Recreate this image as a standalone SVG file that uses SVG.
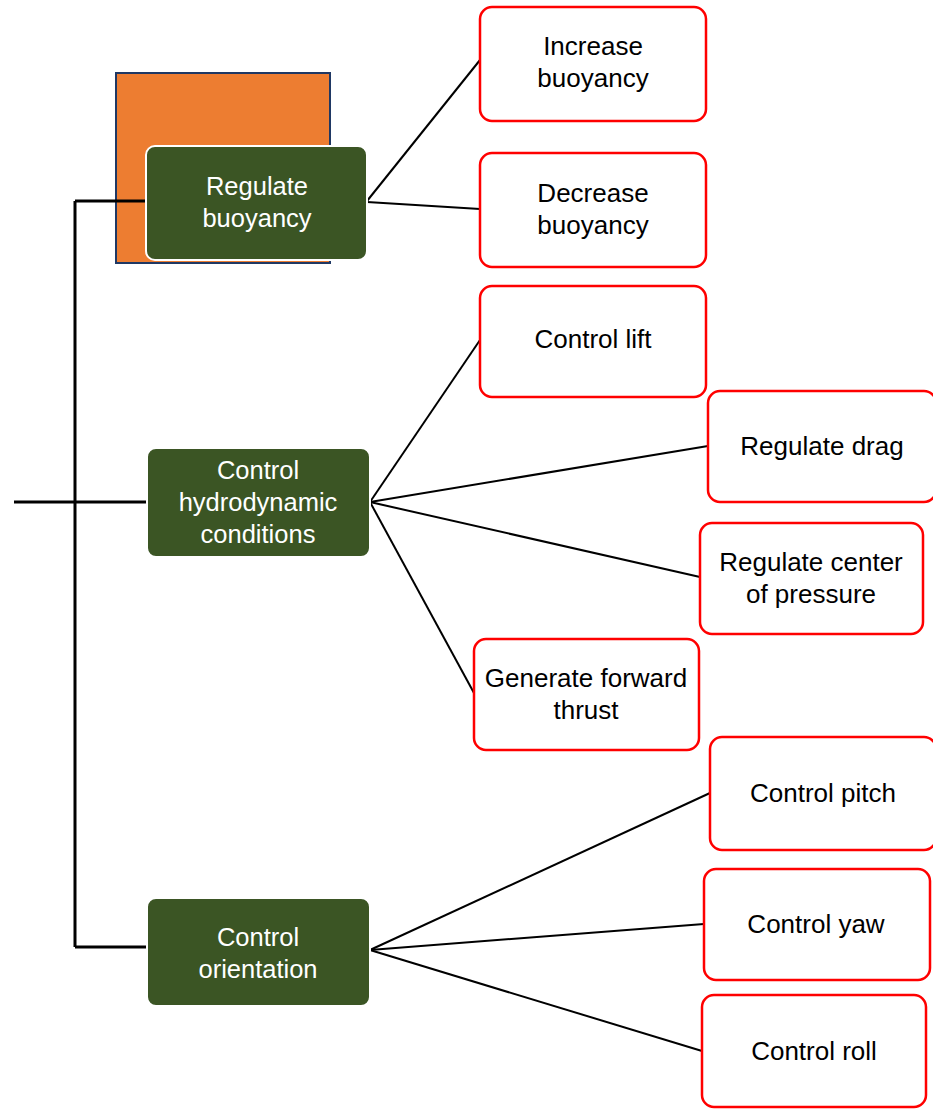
<svg xmlns="http://www.w3.org/2000/svg" width="933" height="1109" viewBox="0 0 933 1109">
  <style>
    .fn { fill: #3b5524; stroke: #ffffff; stroke-width: 2; }
    .leaf { fill: #ffffff; stroke: #ff0000; stroke-width: 2.5; }
    .tw { font-family: "Liberation Sans", Arial, sans-serif; font-size: 25.5px; fill: #ffffff; text-anchor: middle; }
    .tb { font-family: "Liberation Sans", Arial, sans-serif; font-size: 26px; fill: #000000; text-anchor: middle; }
    .trunk { stroke: #000000; stroke-width: 3; fill: none; }
    .branch { stroke: #000000; stroke-width: 2; fill: none; }
  </style>

  <!-- background accent block -->
  <rect x="116" y="73" width="214" height="190" fill="#ed7d31" stroke="#1f3864" stroke-width="2"/>

  <!-- connectors -->
  <g id="connectors">
    <path class="trunk" d="M75 201 V947 M75 201 H147 M14 502 H147 M75 947 H147"/>
    <line class="branch" x1="367" y1="201" x2="480" y2="60"/>
    <line class="branch" x1="367" y1="202" x2="480" y2="209"/>
    <line class="branch" x1="370" y1="502" x2="480" y2="340"/>
    <line class="branch" x1="370" y1="502" x2="708" y2="446"/>
    <line class="branch" x1="370" y1="502" x2="700" y2="577"/>
    <line class="branch" x1="370" y1="502" x2="474" y2="693"/>
    <line class="branch" x1="370" y1="950" x2="710" y2="793"/>
    <line class="branch" x1="370" y1="950" x2="704" y2="924"/>
    <line class="branch" x1="370" y1="950" x2="702" y2="1051"/>
  </g>

  <!-- function nodes -->
  <g id="regulate-buoyancy">
    <rect class="fn" x="146" y="146" width="221" height="114" rx="9"/>
    <text class="tw" x="257" y="195">Regulate</text>
    <text class="tw" x="257" y="227">buoyancy</text>
  </g>
  <g id="control-hydrodynamic">
    <rect class="fn" x="147" y="448" width="223" height="109" rx="9"/>
    <text class="tw" x="258" y="479">Control</text>
    <text class="tw" x="258" y="511">hydrodynamic</text>
    <text class="tw" x="258" y="543">conditions</text>
  </g>
  <g id="control-orientation">
    <rect class="fn" x="147" y="898" width="223" height="108" rx="9"/>
    <text class="tw" x="258" y="946">Control</text>
    <text class="tw" x="258" y="978">orientation</text>
  </g>

  <!-- sub-function nodes -->
  <g id="increase-buoyancy">
    <rect class="leaf" x="480" y="7" width="226" height="114" rx="12"/>
    <text class="tb" x="593" y="55">Increase</text>
    <text class="tb" x="593" y="87">buoyancy</text>
  </g>
  <g id="decrease-buoyancy">
    <rect class="leaf" x="480" y="153" width="226" height="114" rx="12"/>
    <text class="tb" x="593" y="202">Decrease</text>
    <text class="tb" x="593" y="234">buoyancy</text>
  </g>
  <g id="control-lift">
    <rect class="leaf" x="480" y="286" width="226" height="111" rx="12"/>
    <text class="tb" x="593" y="348">Control lift</text>
  </g>
  <g id="regulate-drag">
    <rect class="leaf" x="708" y="391" width="228" height="111" rx="12"/>
    <text class="tb" x="822" y="455">Regulate drag</text>
  </g>
  <g id="regulate-center-of-pressure">
    <rect class="leaf" x="700" y="523" width="223" height="111" rx="12"/>
    <text class="tb" x="811" y="571">Regulate center</text>
    <text class="tb" x="811" y="603">of pressure</text>
  </g>
  <g id="generate-forward-thrust">
    <rect class="leaf" x="474" y="639" width="225" height="111" rx="12"/>
    <text class="tb" x="586" y="687">Generate forward</text>
    <text class="tb" x="586" y="719">thrust</text>
  </g>
  <g id="control-pitch">
    <rect class="leaf" x="710" y="737" width="226" height="113" rx="12"/>
    <text class="tb" x="823" y="802">Control pitch</text>
  </g>
  <g id="control-yaw">
    <rect class="leaf" x="704" y="869" width="226" height="111" rx="12"/>
    <text class="tb" x="816" y="933">Control yaw</text>
  </g>
  <g id="control-roll">
    <rect class="leaf" x="702" y="995" width="224" height="112" rx="12"/>
    <text class="tb" x="814" y="1060">Control roll</text>
  </g>
</svg>
